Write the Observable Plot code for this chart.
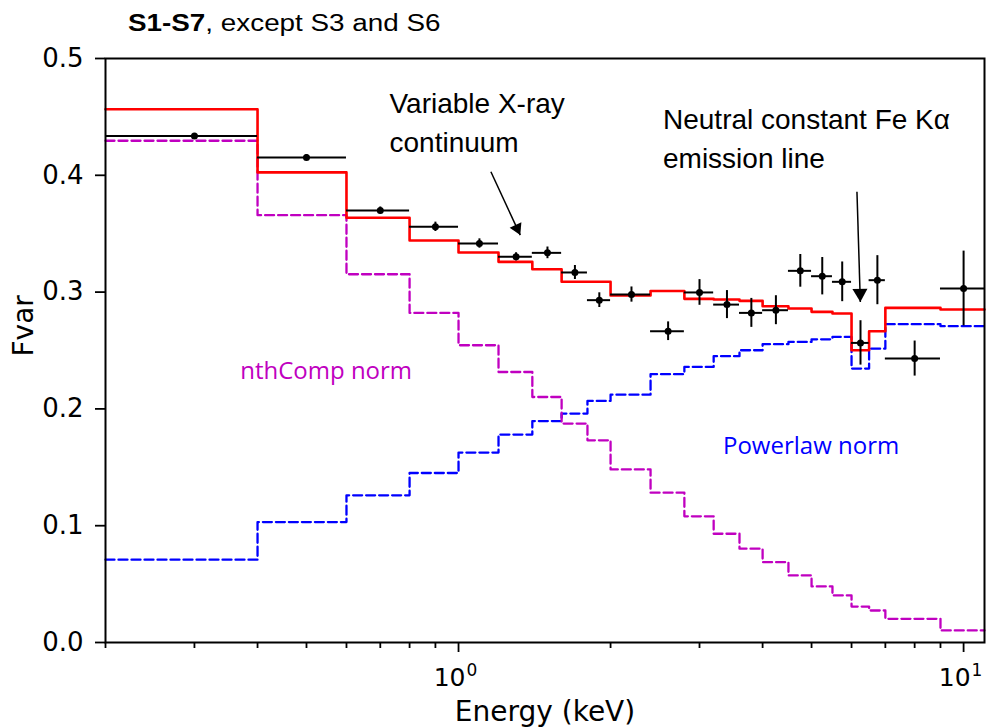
<!DOCTYPE html>
<html>
<head>
<meta charset="utf-8">
<script src="https://cdn.jsdelivr.net/npm/d3@7"></script>
<script src="https://cdn.jsdelivr.net/npm/@observablehq/plot@0.6"></script>
<style>
  html, body { margin: 0; padding: 0; background: #fff; }
  #title { position: relative; width: 989px; height: 30px; z-index: 2; }
  #title span {
    position: absolute; left: 128px; top: 12px; white-space: nowrap;
    font-family: "Liberation Sans", Arial, sans-serif; font-size: 23px; line-height: 23px;
    color: #000; transform: scaleX(1.21); transform-origin: 0 0;
  }
  #chart svg { display: block; }
</style>
</head>
<body>
<div id="title"><span><b>S1-S7</b>, except S3 and S6</span></div>
<div id="chart"></div>
<script>
// ---- data ----
const binEdges = [0.2, 0.4, 0.6, 0.8, 1.0, 1.2, 1.4, 1.6, 1.8, 2.0, 2.4, 2.8, 3.2, 3.6, 4.0, 4.5, 5.0, 5.5, 6.0, 6.5, 7.0, 9.0, 11.0];
const energy = [0.3, 0.5, 0.7, 0.9, 1.1, 1.3, 1.5, 1.7, 1.9, 2.2, 2.6, 3.0, 3.4, 3.8, 4.25, 4.75, 5.25, 5.75, 6.25, 6.75, 8.0, 10.0];
const fvar = [0.4336, 0.4153, 0.3699, 0.3559, 0.3416, 0.3302, 0.3336, 0.3168, 0.2931, 0.2979, 0.2665, 0.2997, 0.2893, 0.2822, 0.2845, 0.3182, 0.3136, 0.3088, 0.2565, 0.3102, 0.2431, 0.3031];
const fvarErr = [0.001, 0.0025, 0.003, 0.004, 0.004, 0.0035, 0.005, 0.006, 0.0063, 0.0065, 0.008, 0.011, 0.012, 0.0124, 0.0124, 0.014, 0.016, 0.017, 0.019, 0.021, 0.015, 0.032];
const totalModel = [0.4565, 0.4025, 0.3636, 0.3442, 0.3339, 0.3259, 0.3196, 0.3088, 0.3088, 0.2971, 0.3010, 0.2942, 0.2937, 0.2925, 0.2879, 0.2859, 0.2831, 0.2817, 0.2502, 0.2665, 0.2865, 0.2851];
const powerlawNorm = [0.0709, 0.1031, 0.1260, 0.1451, 0.1626, 0.1780, 0.1896, 0.1960, 0.2068, 0.2122, 0.2297, 0.2359, 0.2451, 0.2502, 0.2554, 0.2573, 0.2596, 0.2616, 0.2345, 0.2516, 0.2725, 0.2708];
const nthCompNorm = [0.4296, 0.3659, 0.3153, 0.2822, 0.2545, 0.2316, 0.2102, 0.1874, 0.1731, 0.1482, 0.1283, 0.1080, 0.0931, 0.0803, 0.0688, 0.0574, 0.0480, 0.0403, 0.0308, 0.0274, 0.0203, 0.0103];

const xMajorTicks = [1, 10];
const xTickBase = ["10", "10"];
const xTickExponent = ["0", "1"];
const xMinorTicks = [0.2, 0.3, 0.4, 0.5, 0.6, 0.7, 0.8, 0.9, 2, 3, 4, 5, 6, 7, 8, 9];
const yTicks = [0, 0.1, 0.2, 0.3, 0.4, 0.5];
const xLabel = "Energy (keV)";
const yLabel = "Fvar";

// annotations: text, energy (left), Fvar (baseline)
const labelText = ["Variable X-ray", "continuum", "Neutral constant Fe K\u03b1", "emission line"];
const labelX = [0.730, 0.730, 2.540, 2.540];
const labelY = [0.4530, 0.4201, 0.4396, 0.4059];
const compText = ["nthComp norm", "Powerlaw norm"];
const compX = [0.3696, 3.339];
const compY = [0.2260, 0.1617];
const compColor = ["#c000c0", "#0000ff"];
// arrows: start -> tip (energy, Fvar)
const arrowX1 = [1.159, 6.15], arrowY1 = [0.403, 0.3859];
const arrowX2 = [1.325, 6.245], arrowY2 = [0.3488, 0.2916];

// ---- build tables ----
const points = energy.map((e, i) => ({
  e, f: fvar[i], lo: binEdges[i], hi: binEdges[i + 1],
  y1: fvar[i] - fvarErr[i], y2: fvar[i] + fvarErr[i]
}));
const stepData = vals => binEdges.map((x, i) => ({x, y: vals[Math.min(i, vals.length - 1)]}));
const labels = labelText.map((t, i) => ({t, x: labelX[i], y: labelY[i]}));
const comps = compText.map((t, i) => ({t, x: compX[i], y: compY[i], c: compColor[i]}));
const arrows = arrowX1.map((x1, i) => ({x1, y1: arrowY1[i], x2: arrowX2[i], y2: arrowY2[i]}));
const majors = xMajorTicks.map((v, i) => ({v, base: xTickBase[i], exp: xTickExponent[i]}));

const chart = Plot.plot({
  width: 989,
  height: 697,
  marginTop: 28,
  marginLeft: 105,
  marginRight: 5,
  marginBottom: 85,
  style: {fontFamily: "DejaVu Sans", color: "#000"},
  x: {type: "log", domain: [0.2, 11]},
  y: {domain: [0, 0.5]},
  marks: [
    Plot.axisX(xMinorTicks, {tickSize: 6, strokeWidth: 1.8, tickFormat: () => "", label: null}),
    Plot.axisX(xMajorTicks, {tickSize: 10, strokeWidth: 1.8, tickFormat: () => "", label: null}),
    Plot.axisY(yTicks, {
      tickSize: 10, strokeWidth: 1.8, tickPadding: 12, fontSize: 26,
      tickFormat: d3.format(".1f"), label: null
    }),
    // x tick labels 10^n
    Plot.text(majors, {x: "v", frameAnchor: "bottom", text: "base", textAnchor: "end", lineAnchor: "bottom", dx: 7, dy: 43, fontSize: 25, fill: "#000"}),
    Plot.text(majors, {x: "v", frameAnchor: "bottom", text: "exp", textAnchor: "start", lineAnchor: "bottom", dx: 8, dy: 33, fontSize: 17, fill: "#000"}),
    // axis titles
    Plot.text([xLabel], {frameAnchor: "bottom", text: d => d, lineAnchor: "bottom", dy: 78, fontSize: 28, fill: "#000"}),
    Plot.text([yLabel], {frameAnchor: "left", text: d => d, rotate: -90, lineAnchor: "bottom", dx: -73, dy: 6, fontSize: 28, fill: "#000"}),
    // model components and total
    Plot.line(stepData(powerlawNorm), {x: "x", y: "y", curve: "step-after", stroke: "#0000ff", strokeWidth: 2.3, strokeDasharray: "9,4"}),
    Plot.line(stepData(nthCompNorm), {x: "x", y: "y", curve: "step-after", stroke: "#c000c0", strokeWidth: 2.3, strokeDasharray: "9,4"}),
    Plot.line(stepData(totalModel), {x: "x", y: "y", curve: "step-after", stroke: "#ff0000", strokeWidth: 2.6}),
    // data with error bars
    Plot.ruleY(points, {y: "f", x1: "lo", x2: "hi", stroke: "#000", strokeWidth: 2}),
    Plot.ruleX(points, {x: "e", y1: "y1", y2: "y2", stroke: "#000", strokeWidth: 2}),
    Plot.dot(points, {x: "e", y: "f", r: 3.5, fill: "#000", stroke: null}),
    // annotations
    Plot.text(labels, {x: "x", y: "y", text: "t", textAnchor: "start", lineAnchor: "bottom", fontFamily: "Liberation Sans", fontSize: 28, fill: "#000"}),
    Plot.text(comps, {x: "x", y: "y", text: "t", textAnchor: "start", lineAnchor: "bottom", fontFamily: "Open Sans", fontSize: 24, fill: d => d.c}),
    Plot.link(arrows, {x1: "x1", y1: "y1", x2: "x2", y2: "y2", stroke: "#000", strokeWidth: 1.5}),
    Plot.dot([arrows[0]], {x: "x2", y: "y2", symbol: "triangle", r: 4.8, rotate: 155, dx: -3.15, dy: -6.8, fill: "#000", stroke: null}),
    Plot.dot([arrows[1]], {x: "x2", y: "y2", symbol: "triangle", r: 5.6, rotate: 178.3, dx: -0.26, dy: -8.66, fill: "#000", stroke: null}),
    Plot.frame({stroke: "#000", strokeWidth: 2})
  ]
});
document.getElementById("chart").appendChild(chart);
</script>
</body>
</html>
